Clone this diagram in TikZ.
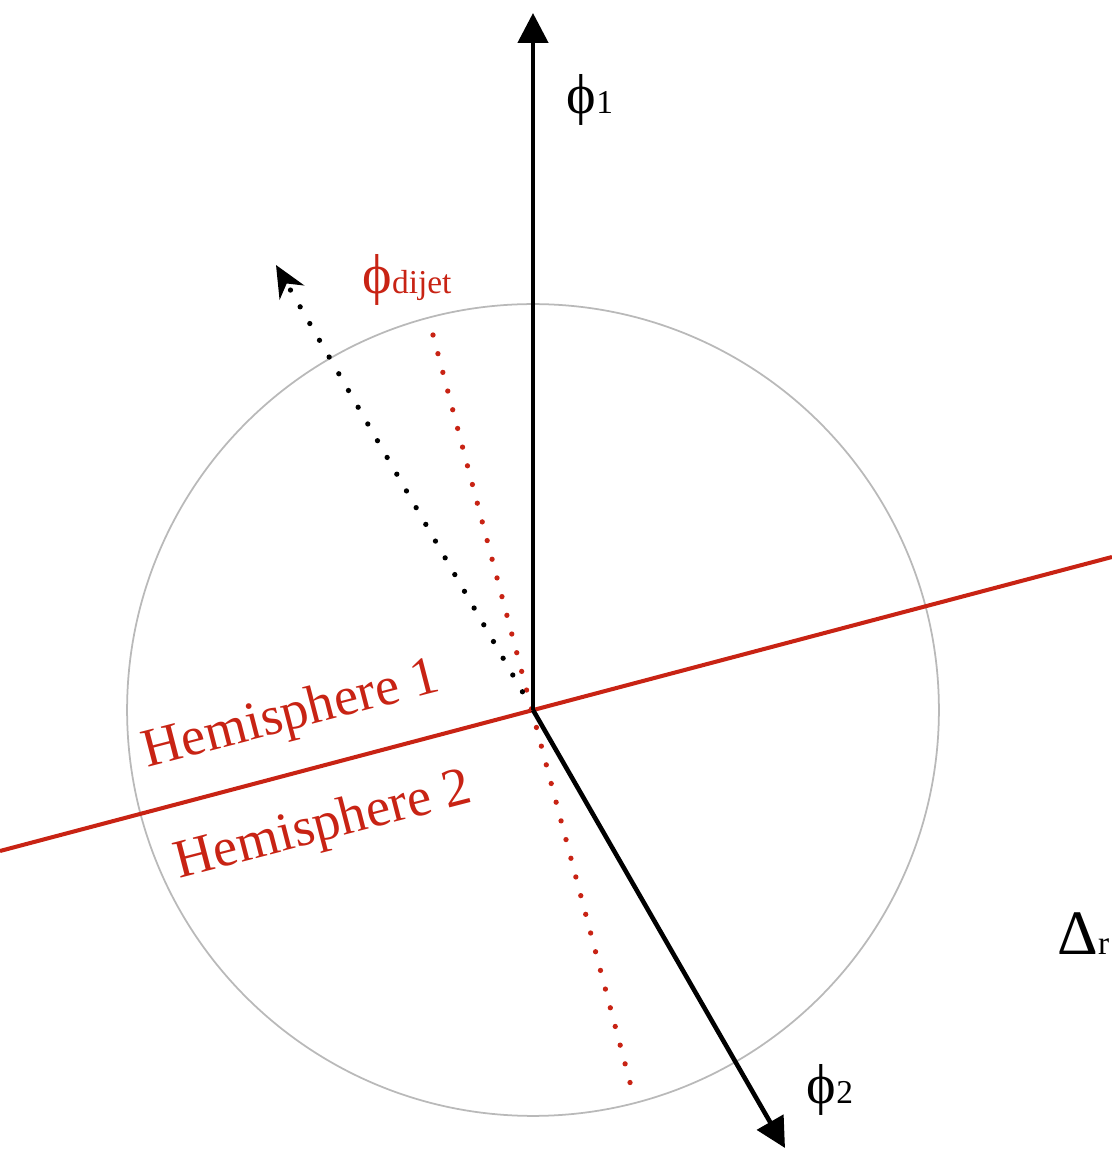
\documentclass[tikz,border=0pt]{standalone}
\usepackage{fontspec}
\setmainfont{Liberation Serif}
\usetikzlibrary{arrows.meta}
\definecolor{hemired}{RGB}{200,35,20}
\definecolor{ringgray}{RGB}{185,185,185}
\newcommand\phisub[1]{{\fontsize{19}{22}\selectfont #1}}
\begin{document}
\begin{tikzpicture}[x=0.02cm,y=0.02cm,
  axis/.style={line width=2.6pt, -{Triangle[length=17pt,width=17pt]}},
  dotline/.style={line width=3pt, line cap=round, dash pattern=on 0pt off 11pt},
  lbl/.style={font=\fontsize{32}{36}\selectfont, inner sep=0pt},
  hemi/.style={text=hemired, font=\fontsize{31}{36}\selectfont, rotate=14.5, inner sep=0pt, anchor=base}]
\useasboundingbox (0,0) rectangle (1112,1150);
\coordinate (O) at (533,440);
\coordinate (P1) at (533,1137);
\coordinate (P2) at (785,2);
\coordinate (Dtip) at (276,885);
\coordinate (Rtop) at (433,815);
\coordinate (Rbot) at (632,60);
\coordinate (Hleft) at (0,299);
\coordinate (Hright) at (1112,593);
% unit circle
\draw[ringgray, line width=1pt] (O) circle [radius=8.12cm];
% dijet directions
\draw[hemired, dotline] (Rtop) -- (Rbot);
\draw[dotline, shorten <=12pt, -{Stealth[length=18pt,width=16pt]}] (O) -- (Dtip);
% hemisphere boundary
\draw[hemired, line width=2.3pt] (Hleft) -- (Hright);
% jet axes
\draw[axis] (O) -- (P1);
\draw[axis] (O) -- (P2);
\node[lbl] (L1) at (590,1050) {ϕ\phisub{1}};
\node[lbl, text=hemired] (Ldijet) at (407,870) {ϕ\phisub{dijet}};
\node[lbl] (L2) at (830,60) {ϕ\phisub{2}};
\node[font=\fontsize{36}{40}\selectfont, inner sep=0pt, anchor=base west] (Ldelta) at (1057,195) {Δ\phisub{r}};
\node[hemi] (H1) at (295,421) {Hemisphere 1};
\node[hemi] (H2) at (327,310) {Hemisphere 2};
\end{tikzpicture}
\end{document}
